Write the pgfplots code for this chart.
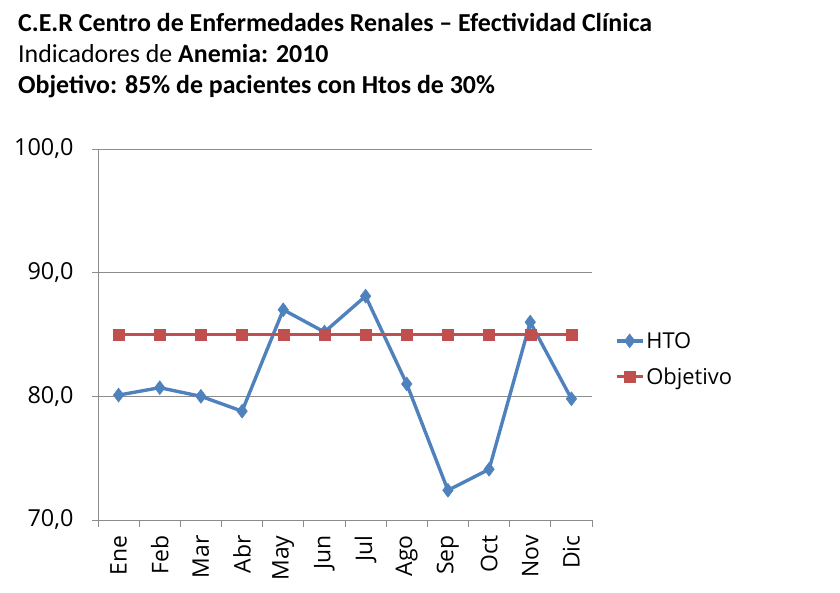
\documentclass[border=0pt]{standalone}
\usepackage{pgfplots}
\pgfplotsset{compat=1.18}
\usepackage{fontspec}
\setmainfont{Carlito}
\newfontfamily\osans{Open Sans}
\definecolor{htoblue}{HTML}{4F81BD}
\definecolor{objred}{HTML}{C0504D}
\definecolor{axgray}{HTML}{8C8C8C}
\begin{document}
\begin{tikzpicture}[x=1bp,y=1bp]
\path[use as bounding box] (0,0) rectangle (840,593);
\begin{scope}[every node/.style={anchor=base west, inner sep=0pt, font=\fontsize{26}{31}\selectfont}]
\node at (18,561) {\textbf{C.E.R Centro de Enfermedades Renales – Efectividad Clínica}};
\node at (18,530) {Indicadores de \textbf{Anemia: 2010}};
\node at (18,499) {\textbf{Objetivo: 85\% de pacientes con Htos de 30\%}};
\end{scope}
\begin{axis}[
  at={(98bp,73bp)}, anchor=south west,
  scale only axis, width=494bp, height=371bp,
  xmin=-0.5, xmax=11.5, ymin=70, ymax=100,
  axis lines*=left,
  axis line style={axgray, line width=0.8pt},
  xtick={0,...,11},
  xticklabels={Ene,Feb,Mar,Abr,May,Jun,Jul,Ago,Sep,Oct,Nov,Dic},
  major x tick style={draw=none},
  minor xtick={-0.5,0.5,...,11.5},
  minor x tick style={axgray, line width=0.8pt},
  minor tick length=7bp,
  ytick={70,80,90,100},
  major y tick style={axgray, line width=0.8pt},
  major tick length=6bp,
  tick align=outside,
  ymajorgrids, grid style={axgray, line width=0.8pt},
  xticklabel style={rotate=90, anchor=east, font=\osans\fontsize{23}{23}\selectfont, xshift=-6bp},
  yticklabel style={font=\osans\fontsize{23.5}{23.5}\selectfont, xshift=-15bp},
  /pgf/number format/.cd, fixed, fixed zerofill, precision=1, use comma, assume math mode=true,
  /pgfplots/.cd,
  legend style={at={(1.04,0.434)}, anchor=west, draw=none, fill=none,
    font=\osans\fontsize{22}{22}\selectfont, row sep=14bp,
    /tikz/every even column/.append style={column sep=2bp}},
  legend cell align=left,
  legend image code/.code={
    \draw[#1, mark repeat=2, mark phase=2] plot coordinates {(0bp,0bp) (13bp,0bp) (26bp,0bp)};},
]
\addplot[htoblue, line width=3.4pt, mark=diamond*, mark size=7bp, mark options={solid, line width=0.5pt}]
coordinates {(0,80.1) (1,80.7) (2,80.0) (3,78.8) (4,87.0) (5,85.2) (6,88.1) (7,81.0) (8,72.4) (9,74.1) (10,86.0) (11,79.8)};
\addlegendentry{HTO}
\addplot[objred, line width=3pt, mark=square*, mark size=5.5bp, mark options={solid, line width=0.5pt}]
coordinates {(0,85) (1,85) (2,85) (3,85) (4,85) (5,85) (6,85) (7,85) (8,85) (9,85) (10,85) (11,85)};
\addlegendentry{Objetivo}
\end{axis}
\end{tikzpicture}
\end{document}
